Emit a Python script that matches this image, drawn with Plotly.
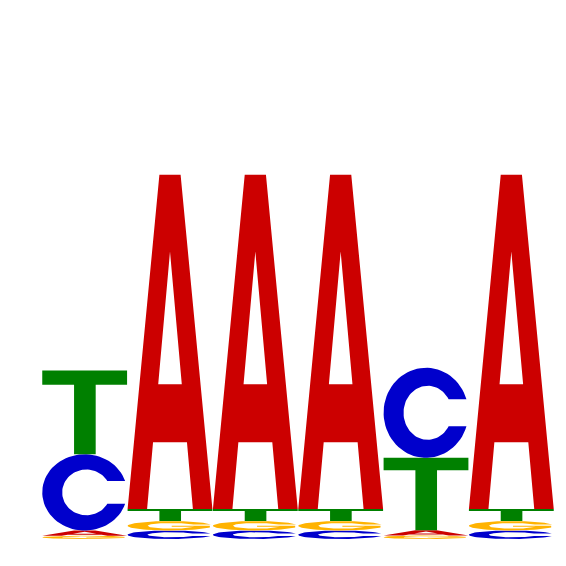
import numpy as np
import plotly.graph_objects as go

# ---- data (information content in bits per base, per position) ----
positions = [1, 2, 3, 4, 5, 6]
bases = ["A", "C", "G", "T"]
A_bits = [0.020, 1.306, 1.306, 1.306, 0.020, 1.306]
C_bits = [0.298, 0.033, 0.033, 0.033, 0.352, 0.033]
G_bits = [0.013, 0.037, 0.037, 0.037, 0.014, 0.037]
T_bits = [0.327, 0.047, 0.047, 0.047, 0.283, 0.047]

colors = {"A": "#CC0000", "C": "#0000CC", "G": "#FFB300", "T": "#008000"}
bits = {"A": A_bits, "C": C_bits, "G": G_bits, "T": T_bits}


# ---- glyph outlines in a unit box (u, v in [0, 1]) ----
def ell(cx, cy, rx, ry, a0, a1, n=70):
    t = np.radians(np.linspace(a0, a1, n))
    return list(zip(cx + rx * np.cos(t), cy + ry * np.sin(t)))


def glyph_A():
    # outer outline (clockwise) joined by a slit to the counter (counter-clockwise)
    return [(0.30, 0.20), (0.23, 0), (0, 0), (0.375, 1), (0.625, 1), (1, 0),
            (0.77, 0), (0.70, 0.20), (0.30, 0.20),
            (0.361, 0.373), (0.639, 0.373), (0.5, 0.77), (0.361, 0.373),
            (0.30, 0.20)]


def glyph_T():
    return [(0.375, 0), (0.63, 0), (0.63, 0.83), (1, 0.83), (1, 1), (0, 1),
            (0, 0.83), (0.375, 0.83), (0.375, 0)]


def glyph_C():
    ocx, ocy, orx, ory = 0.5, 0.5, 0.5, 0.5
    icx, icy, irx, iry = 0.52, 0.5, 0.285, 0.30
    vt, vb = 0.65, 0.35
    ot = np.degrees(np.arcsin((vt - ocy) / ory))
    ob = 360 + np.degrees(np.arcsin((vb - ocy) / ory))
    it = np.degrees(np.arcsin((vt - icy) / iry))
    ib = 360 + np.degrees(np.arcsin((vb - icy) / iry))
    ring = ell(ocx, ocy, orx, ory, ot, ob) + ell(icx, icy, irx, iry, ib, it)
    return ring + [ring[0]]


def glyph_G():
    ocx, ocy, orx, ory = 0.5, 0.5, 0.5, 0.5
    icx, icy, irx, iry = 0.52, 0.5, 0.285, 0.30
    vt = 0.63
    ot = np.degrees(np.arcsin((vt - ocy) / ory))
    it = np.degrees(np.arcsin((vt - icy) / iry))
    ring = ell(ocx, ocy, orx, ory, ot, 340)
    ring += [(0.97, 0.52), (0.52, 0.52), (0.52, 0.39)]
    inner = ell(icx, icy, irx, iry, -20, -360 + it)
    ring += [(inner[0][0], 0.39)] + inner
    return ring + [ring[0]]


glyphs = {"A": glyph_A(), "C": glyph_C(), "G": glyph_G(), "T": glyph_T()}

fig = go.Figure()
pad = 0.003
for i, pos in enumerate(positions):
    heights = sorted(((b, bits[b][i]) for b in bases), key=lambda t: t[1])
    base_y = 0.0
    for b, h in heights:
        ring = glyphs[b]
        xs = [pos - 0.5 + pad + u * (1 - 2 * pad) for (u, v) in ring]
        ys = [base_y + v * h for (u, v) in ring]
        fig.add_trace(go.Scatter(
            x=xs, y=ys, mode="lines", fill="toself",
            fillcolor=colors[b], line=dict(width=0, color=colors[b]),
            hoverinfo="skip", showlegend=False,
        ))
        base_y += h

fig.update_layout(
    width=558, height=558,
    margin=dict(l=34, r=12, t=19, b=27),
    paper_bgcolor="white", plot_bgcolor="white",
    xaxis=dict(range=[0.5, 6.5], visible=False, fixedrange=True),
    yaxis=dict(range=[0, 2], visible=False, fixedrange=True),
)
fig.write_html("out.html")
